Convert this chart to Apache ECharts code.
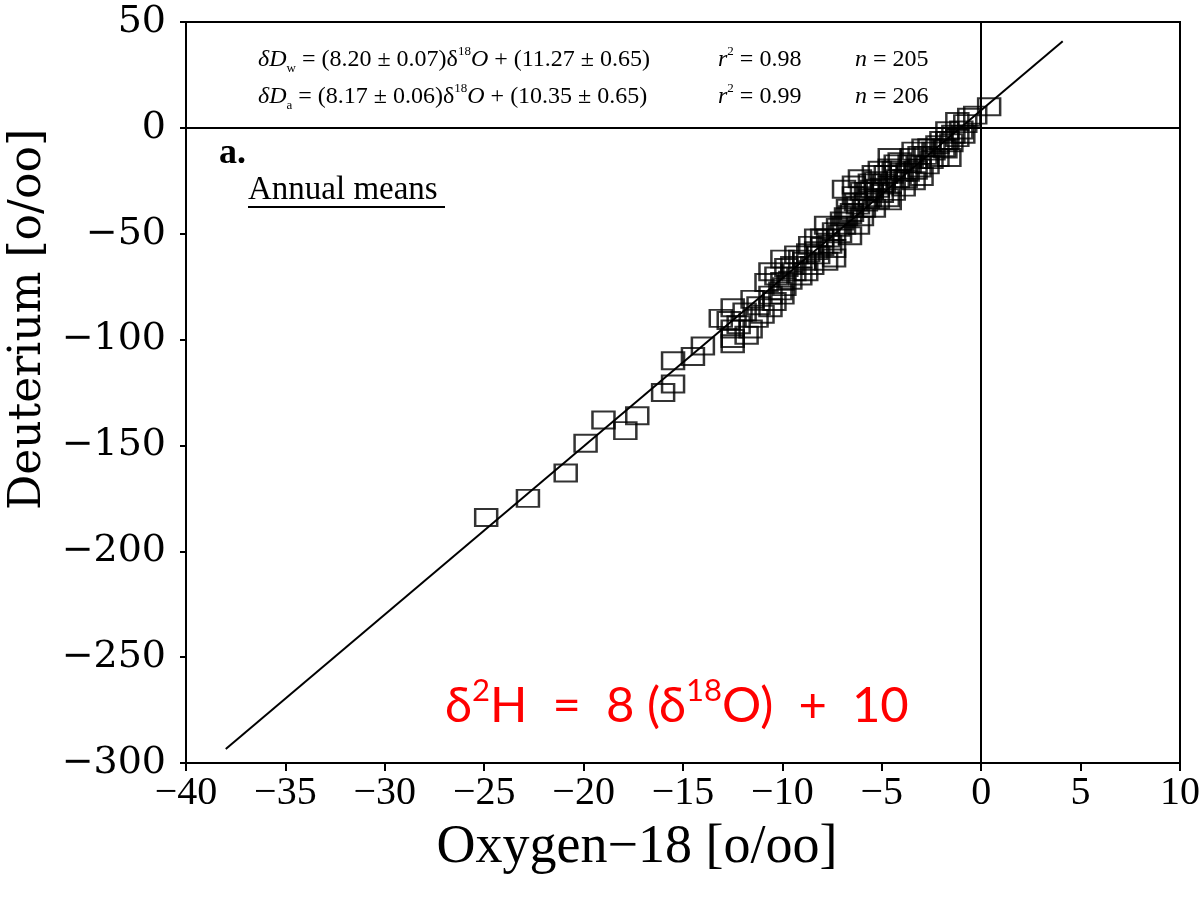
<!DOCTYPE html>
<html>
<head>
<meta charset="utf-8">
<script src="https://cdn.jsdelivr.net/npm/echarts@6/dist/echarts.min.js"></script>
<style>
  html, body { margin: 0; padding: 0; background: #fff; }
  #chart { width: 1201px; height: 897px; }
</style>
</head>
<body>
<div id="chart"></div>
<script>
// Annual means (per mil)
const oxygen18 = [
  -24.9, -22.8, -20.9, -19.9, -19.0, -17.9, -17.3, -16.0, -15.5, -15.5, -14.5, -14.0,
  -13.1, -12.7, -12.5, -12.5, -12.5, -12.5, -11.9, -11.6, -11.5, -11.2, -11.0,
  -10.8, -10.6, -10.6, -10.6, -10.1, -10.0, -10.0, -10.0, -9.8, -9.6, -9.5, -9.3,
  -9.1, -9.1, -8.8, -8.6, -8.5, -8.3, -8.3, -8.0, -7.8, -7.8, -7.6, -7.4, -7.4,
  -7.4, -7.1, -6.9, -6.9, -6.7, -6.6, -6.6, -6.4, -6.4, -6.2, -6.2, -6.1, -6.0,
  -5.8, -5.7, -5.6, -5.4, -5.4, -5.2, -5.1, -5.0, -4.7, -4.6, -4.6, -4.6, -4.6,
  -4.2, -4.1, -4.0, -3.9, -3.7, -3.4, -3.4, -3.1, -3.1, -3.0, -2.9, -2.7, -2.6,
  -2.2, -2.2, -1.9, -1.7, -1.7, -1.6, -1.4, -1.2, -1.2, -0.9, -0.6, -0.3, 0.4,
  -12.2, -11.8, -11.3, -10.4, -10.3, -9.9, -9.4, -8.9, -8.7, -8.2, -8.0, -7.7,
  -7.2, -7.0, -6.8, -6.5, -6.3, -6.0, -5.9, -5.6, -5.5, -5.3, -5.2, -4.9, -4.8,
  -4.4, -4.4, -4.3, -3.8, -3.6, -3.5, -3.3, -2.8, -2.5, -2.4, -2.0, -1.8, -1.5,
  -1.0, -0.8
];
const deuterium = [
  -184, -175, -163, -149, -138, -143, -136, -125, -121, -110, -108, -103,
  -90, -91, -95, -99.5, -102, -85, -87, -95, -81, -84, -88,
  -73, -85, -79, -68, -77, -72.5, -79, -62, -66, -72, -65, -60,
  -70, -62, -68, -55.5, -65, -58, -52, -52, -63, -46, -55, -57, -61.5,
  -49, -50, -46, -29, -38, -51, -41, -32, -27, -46, -36.5, -24, -42,
  -35, -30, -26, -22, -38, -28.5, -20, -31, -33, -27, -19, -34.5, -14,
  -24, -16, -21, -28, -21, -25, -11, -19, -13, -23, -9.5, -17.5, -9.4,
  -8, -14, -9.4, -6, -1.4, -14, -3, 3, -4.6, -3, 5, 6, 10,
  -93, -98, -90, -82, -70, -75, -68, -63, -59, -60, -56, -52,
  -47, -44, -42, -40, -35, -30, -38, -33, -29, -25, -34, -26, -22,
  -30, -20, -17, -24, -17, -14, -20, -13, -15, -11, -6, -10, -7,
  -1, 2
];

// Fitted line, its two drawn ends
const fitOxygen = [-38.0, 4.1];
const fitDeuterium = [-293.4, 40.9];

// Axis ranges and steps
const xRange = [-40, 10];
const xStep = 5;
const yRange = [-300, 50];
const yStep = 50;

const points = oxygen18.map((x, i) => [x, deuterium[i]]);
const fitLine = fitOxygen.map((x, i) => [x, fitDeuterium[i]]);

const minus = (v) => String(v).replace('-', '\u2212');
const serif = '"Liberation Serif", "Times New Roman", serif';
const wideSerif = '"DejaVu Serif", serif';
const redFont = 'Lato, "Noto Sans", sans-serif';

// rich styles shared by the equation lines at the top
const eqRich = {
  i: { fontFamily: serif, fontSize: 24, fontStyle: 'italic', lineHeight: 30 },
  sub: { fontFamily: serif, fontSize: 13, verticalAlign: 'bottom', lineHeight: 30 },
  sup: { fontFamily: serif, fontSize: 13, verticalAlign: 'top', lineHeight: 30 }
};
const eqText = (text, left, top) => ({
  type: 'text', left, top,
  style: { text, fontFamily: serif, fontSize: 24, fill: '#000', lineHeight: 30, rich: eqRich }
});

const chart = echarts.init(document.getElementById('chart'));

chart.setOption({
  animation: false,
  backgroundColor: '#fff',
  grid: {
    left: 186, right: 21, top: 22, bottom: 134,
    outerBoundsMode: 'none',
    show: true, borderColor: '#000', borderWidth: 2, backgroundColor: 'transparent'
  },
  xAxis: {
    type: 'value',
    min: xRange[0], max: xRange[1], interval: xStep,
    name: 'Oxygen\u221218 [o/oo]',
    nameLocation: 'middle',
    nameGap: 58,
    nameTextStyle: { fontFamily: serif, fontSize: 54, color: '#000', padding: [0, 92, 0, 0] },
    axisLine: { onZero: false, lineStyle: { color: '#000', width: 2 } },
    axisTick: { length: 8, lineStyle: { color: '#000', width: 2 } },
    axisLabel: { fontFamily: serif, fontSize: 40, color: '#000', margin: 10, formatter: minus },
    splitLine: { show: false }
  },
  yAxis: {
    type: 'value',
    min: yRange[0], max: yRange[1], interval: yStep,
    name: 'Deuterium [o/oo]',
    nameLocation: 'middle',
    nameGap: 128,
    nameTextStyle: { fontFamily: wideSerif, fontSize: 44, color: '#000', padding: [0, 0, 0, 146] },
    axisLine: { onZero: false, lineStyle: { color: '#000', width: 2 } },
    axisTick: { length: 6, lineStyle: { color: '#000', width: 2 } },
    axisLabel: { fontFamily: wideSerif, fontSize: 38, color: '#000', margin: 20, formatter: minus },
    splitLine: { show: false }
  },
  series: [
    {
      type: 'line',
      data: fitLine,
      showSymbol: false,
      symbol: 'none',
      lineStyle: { color: '#000', width: 2 },
      silent: true
    },
    {
      type: 'scatter',
      data: points,
      symbol: 'rect',
      symbolSize: [22, 17],
      itemStyle: { color: 'rgba(0,0,0,0)', borderColor: '#000', borderWidth: 2.2 },
      markLine: {
        silent: true,
        symbol: 'none',
        label: { show: false },
        lineStyle: { color: '#000', width: 2, type: 'solid' },
        data: [{ yAxis: 0 }, { xAxis: 0 }]
      }
    }
  ],
  graphic: [
    eqText('{i|\u03b4D}{sub|w} = (8.20 \u00b1 0.07)\u03b4{sup|18}{i|O} + (11.27 \u00b1 0.65)', 258, 45),
    eqText('{i|\u03b4D}{sub|a} = (8.17 \u00b1 0.06)\u03b4{sup|18}{i|O} + (10.35 \u00b1 0.65)', 258, 82),
    eqText('{i|r}{sup|2} = 0.98', 718, 45),
    eqText('{i|r}{sup|2} = 0.99', 718, 82),
    eqText('{i|n} = 205', 855, 45),
    eqText('{i|n} = 206', 855, 82),
    {
      type: 'text', left: 219, top: 136,
      style: { text: 'a.', fontFamily: serif, fontSize: 36, fontWeight: 'bold', fill: '#000' }
    },
    {
      type: 'text', left: 248, top: 174,
      style: { text: 'Annual means', fontFamily: serif, fontSize: 33, fill: '#000' }
    },
    {
      type: 'line',
      shape: { x1: 248, y1: 207, x2: 445, y2: 207 },
      style: { stroke: '#000', lineWidth: 2 }
    },
    {
      type: 'text', left: 445, top: 675,
      style: {
        text: '\u03b4{sup|2}H  =  8 (\u03b4{sup|18}O)  +  10',
        fontFamily: redFont, fontSize: 49, fill: '#ff0000', lineHeight: 62,
        rich: {
          sup: { fontFamily: redFont, fontSize: 31, fill: '#ff0000', verticalAlign: 'top', lineHeight: 62 }
        }
      }
    }
  ]
});
</script>
</body>
</html>
